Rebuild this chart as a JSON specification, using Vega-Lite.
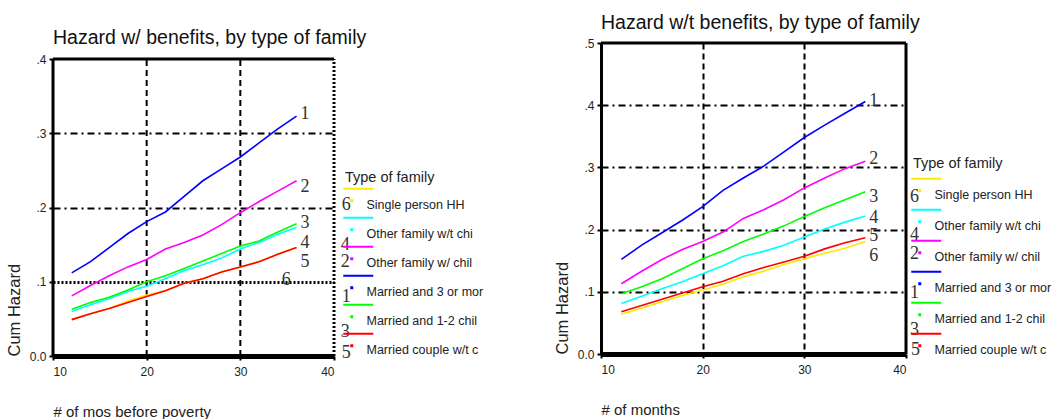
{
  "$schema": "https://vega.github.io/schema/vega-lite/v6.json",
  "background": "white",
  "padding": {"left": 6, "top": 12, "right": 0, "bottom": 0},
  "columns": 2,
  "align": "none",
  "spacing": 70,
  "config": {
    "font": "Liberation Sans",
    "view": {"stroke": null},
    "title": {"fontSize": 19.5, "fontWeight": "normal", "color": "#111", "anchor": "start", "frame": "group", "offset": 4},
    "axis": {
      "domainColor": "black", "domainWidth": 3,
      "tickColor": "black", "tickWidth": 2, "tickSize": 4,
      "labelFontSize": 12, "labelColor": "#222", "labelPadding": 3,
      "titleFontSize": 15, "titleFontWeight": "normal", "titleColor": "#222",
      "grid": true, "gridColor": "black", "gridWidth": 2
    },
    "axisX": {"domainWidth": 5, "labelPadding": 6, "titleAnchor": "start", "titlePadding": 27},
    "axisY": {
      "titleAnchor": "start", "titlePadding": 7, "titleFontSize": 16.5,
      "labelExpr": "datum.value == 0 ? '0.0' : replace(format(datum.value, '.1f'), '0.', '.')"
    },
    "legend": {
      "orient": "none",
      "titleFontSize": 14.5, "titleFontWeight": "normal", "titleColor": "#222",
      "labelFontSize": 12.5, "labelColor": "#222", "labelLimit": 300,
      "symbolType": "M-8,-16H22M0,-4.5h1v1h-1z",
      "symbolSize": 4, "symbolStrokeWidth": 2,
      "labelOffset": 9, "titlePadding": 13
    }
  },
  "resolve": {"legend": {"color": "independent"}},
  "datasets": {
    "withBenefits": [
      {"month": 12, "hazard": 0.049, "family": "Single person HH"},
      {"month": 14, "hazard": 0.057, "family": "Single person HH"},
      {"month": 16, "hazard": 0.064, "family": "Single person HH"},
      {"month": 18, "hazard": 0.074, "family": "Single person HH"},
      {"month": 20, "hazard": 0.082, "family": "Single person HH"},
      {"month": 22, "hazard": 0.088, "family": "Single person HH"},
      {"month": 24, "hazard": 0.098, "family": "Single person HH"},
      {"month": 26, "hazard": 0.104, "family": "Single person HH"},
      {"month": 28, "hazard": 0.113, "family": "Single person HH"},
      {"month": 30, "hazard": 0.120, "family": "Single person HH"},
      {"month": 32, "hazard": 0.127, "family": "Single person HH"},
      {"month": 34, "hazard": 0.137, "family": "Single person HH"},
      {"month": 36, "hazard": 0.146, "family": "Single person HH"},
      {"month": 12, "hazard": 0.060, "family": "Other family w/t chi"},
      {"month": 14, "hazard": 0.069, "family": "Other family w/t chi"},
      {"month": 16, "hazard": 0.077, "family": "Other family w/t chi"},
      {"month": 18, "hazard": 0.087, "family": "Other family w/t chi"},
      {"month": 20, "hazard": 0.094, "family": "Other family w/t chi"},
      {"month": 22, "hazard": 0.104, "family": "Other family w/t chi"},
      {"month": 24, "hazard": 0.115, "family": "Other family w/t chi"},
      {"month": 26, "hazard": 0.123, "family": "Other family w/t chi"},
      {"month": 28, "hazard": 0.132, "family": "Other family w/t chi"},
      {"month": 30, "hazard": 0.144, "family": "Other family w/t chi"},
      {"month": 32, "hazard": 0.153, "family": "Other family w/t chi"},
      {"month": 34, "hazard": 0.164, "family": "Other family w/t chi"},
      {"month": 36, "hazard": 0.173, "family": "Other family w/t chi"},
      {"month": 12, "hazard": 0.081, "family": "Other family w/ chil"},
      {"month": 14, "hazard": 0.095, "family": "Other family w/ chil"},
      {"month": 16, "hazard": 0.108, "family": "Other family w/ chil"},
      {"month": 18, "hazard": 0.120, "family": "Other family w/ chil"},
      {"month": 20, "hazard": 0.130, "family": "Other family w/ chil"},
      {"month": 22, "hazard": 0.144, "family": "Other family w/ chil"},
      {"month": 24, "hazard": 0.153, "family": "Other family w/ chil"},
      {"month": 26, "hazard": 0.163, "family": "Other family w/ chil"},
      {"month": 28, "hazard": 0.177, "family": "Other family w/ chil"},
      {"month": 30, "hazard": 0.193, "family": "Other family w/ chil"},
      {"month": 32, "hazard": 0.208, "family": "Other family w/ chil"},
      {"month": 34, "hazard": 0.222, "family": "Other family w/ chil"},
      {"month": 36, "hazard": 0.236, "family": "Other family w/ chil"},
      {"month": 12, "hazard": 0.112, "family": "Married and 3 or mor"},
      {"month": 14, "hazard": 0.127, "family": "Married and 3 or mor"},
      {"month": 16, "hazard": 0.146, "family": "Married and 3 or mor"},
      {"month": 18, "hazard": 0.165, "family": "Married and 3 or mor"},
      {"month": 20, "hazard": 0.181, "family": "Married and 3 or mor"},
      {"month": 22, "hazard": 0.194, "family": "Married and 3 or mor"},
      {"month": 24, "hazard": 0.215, "family": "Married and 3 or mor"},
      {"month": 26, "hazard": 0.236, "family": "Married and 3 or mor"},
      {"month": 28, "hazard": 0.252, "family": "Married and 3 or mor"},
      {"month": 30, "hazard": 0.268, "family": "Married and 3 or mor"},
      {"month": 32, "hazard": 0.287, "family": "Married and 3 or mor"},
      {"month": 34, "hazard": 0.306, "family": "Married and 3 or mor"},
      {"month": 36, "hazard": 0.323, "family": "Married and 3 or mor"},
      {"month": 12, "hazard": 0.063, "family": "Married and 1-2 chil"},
      {"month": 14, "hazard": 0.072, "family": "Married and 1-2 chil"},
      {"month": 16, "hazard": 0.079, "family": "Married and 1-2 chil"},
      {"month": 18, "hazard": 0.089, "family": "Married and 1-2 chil"},
      {"month": 20, "hazard": 0.100, "family": "Married and 1-2 chil"},
      {"month": 22, "hazard": 0.108, "family": "Married and 1-2 chil"},
      {"month": 24, "hazard": 0.118, "family": "Married and 1-2 chil"},
      {"month": 26, "hazard": 0.128, "family": "Married and 1-2 chil"},
      {"month": 28, "hazard": 0.138, "family": "Married and 1-2 chil"},
      {"month": 30, "hazard": 0.148, "family": "Married and 1-2 chil"},
      {"month": 32, "hazard": 0.155, "family": "Married and 1-2 chil"},
      {"month": 34, "hazard": 0.167, "family": "Married and 1-2 chil"},
      {"month": 36, "hazard": 0.178, "family": "Married and 1-2 chil"},
      {"month": 12, "hazard": 0.049, "family": "Married couple w/t c"},
      {"month": 14, "hazard": 0.057, "family": "Married couple w/t c"},
      {"month": 16, "hazard": 0.064, "family": "Married couple w/t c"},
      {"month": 18, "hazard": 0.072, "family": "Married couple w/t c"},
      {"month": 20, "hazard": 0.080, "family": "Married couple w/t c"},
      {"month": 22, "hazard": 0.088, "family": "Married couple w/t c"},
      {"month": 24, "hazard": 0.098, "family": "Married couple w/t c"},
      {"month": 26, "hazard": 0.104, "family": "Married couple w/t c"},
      {"month": 28, "hazard": 0.113, "family": "Married couple w/t c"},
      {"month": 30, "hazard": 0.120, "family": "Married couple w/t c"},
      {"month": 32, "hazard": 0.127, "family": "Married couple w/t c"},
      {"month": 34, "hazard": 0.137, "family": "Married couple w/t c"},
      {"month": 36, "hazard": 0.146, "family": "Married couple w/t c"}
    ],
    "withoutBenefits": [
      {"month": 12, "hazard": 0.064, "family": "Single person HH"},
      {"month": 14, "hazard": 0.074, "family": "Single person HH"},
      {"month": 16, "hazard": 0.084, "family": "Single person HH"},
      {"month": 18, "hazard": 0.094, "family": "Single person HH"},
      {"month": 20, "hazard": 0.103, "family": "Single person HH"},
      {"month": 22, "hazard": 0.112, "family": "Single person HH"},
      {"month": 24, "hazard": 0.124, "family": "Single person HH"},
      {"month": 26, "hazard": 0.133, "family": "Single person HH"},
      {"month": 28, "hazard": 0.144, "family": "Single person HH"},
      {"month": 30, "hazard": 0.153, "family": "Single person HH"},
      {"month": 32, "hazard": 0.162, "family": "Single person HH"},
      {"month": 34, "hazard": 0.170, "family": "Single person HH"},
      {"month": 36, "hazard": 0.181, "family": "Single person HH"},
      {"month": 12, "hazard": 0.081, "family": "Other family w/t chi"},
      {"month": 14, "hazard": 0.093, "family": "Other family w/t chi"},
      {"month": 16, "hazard": 0.105, "family": "Other family w/t chi"},
      {"month": 18, "hazard": 0.116, "family": "Other family w/t chi"},
      {"month": 20, "hazard": 0.129, "family": "Other family w/t chi"},
      {"month": 22, "hazard": 0.142, "family": "Other family w/t chi"},
      {"month": 24, "hazard": 0.157, "family": "Other family w/t chi"},
      {"month": 26, "hazard": 0.165, "family": "Other family w/t chi"},
      {"month": 28, "hazard": 0.175, "family": "Other family w/t chi"},
      {"month": 30, "hazard": 0.188, "family": "Other family w/t chi"},
      {"month": 32, "hazard": 0.201, "family": "Other family w/t chi"},
      {"month": 34, "hazard": 0.212, "family": "Other family w/t chi"},
      {"month": 36, "hazard": 0.222, "family": "Other family w/t chi"},
      {"month": 12, "hazard": 0.113, "family": "Other family w/ chil"},
      {"month": 14, "hazard": 0.133, "family": "Other family w/ chil"},
      {"month": 16, "hazard": 0.152, "family": "Other family w/ chil"},
      {"month": 18, "hazard": 0.168, "family": "Other family w/ chil"},
      {"month": 20, "hazard": 0.181, "family": "Other family w/ chil"},
      {"month": 22, "hazard": 0.196, "family": "Other family w/ chil"},
      {"month": 24, "hazard": 0.218, "family": "Other family w/ chil"},
      {"month": 26, "hazard": 0.232, "family": "Other family w/ chil"},
      {"month": 28, "hazard": 0.248, "family": "Other family w/ chil"},
      {"month": 30, "hazard": 0.267, "family": "Other family w/ chil"},
      {"month": 32, "hazard": 0.283, "family": "Other family w/ chil"},
      {"month": 34, "hazard": 0.298, "family": "Other family w/ chil"},
      {"month": 36, "hazard": 0.310, "family": "Other family w/ chil"},
      {"month": 12, "hazard": 0.152, "family": "Married and 3 or mor"},
      {"month": 14, "hazard": 0.175, "family": "Married and 3 or mor"},
      {"month": 16, "hazard": 0.195, "family": "Married and 3 or mor"},
      {"month": 18, "hazard": 0.215, "family": "Married and 3 or mor"},
      {"month": 20, "hazard": 0.237, "family": "Married and 3 or mor"},
      {"month": 22, "hazard": 0.263, "family": "Married and 3 or mor"},
      {"month": 24, "hazard": 0.283, "family": "Married and 3 or mor"},
      {"month": 26, "hazard": 0.302, "family": "Married and 3 or mor"},
      {"month": 28, "hazard": 0.325, "family": "Married and 3 or mor"},
      {"month": 30, "hazard": 0.348, "family": "Married and 3 or mor"},
      {"month": 32, "hazard": 0.368, "family": "Married and 3 or mor"},
      {"month": 34, "hazard": 0.387, "family": "Married and 3 or mor"},
      {"month": 36, "hazard": 0.406, "family": "Married and 3 or mor"},
      {"month": 12, "hazard": 0.097, "family": "Married and 1-2 chil"},
      {"month": 14, "hazard": 0.108, "family": "Married and 1-2 chil"},
      {"month": 16, "hazard": 0.121, "family": "Married and 1-2 chil"},
      {"month": 18, "hazard": 0.137, "family": "Married and 1-2 chil"},
      {"month": 20, "hazard": 0.153, "family": "Married and 1-2 chil"},
      {"month": 22, "hazard": 0.166, "family": "Married and 1-2 chil"},
      {"month": 24, "hazard": 0.181, "family": "Married and 1-2 chil"},
      {"month": 26, "hazard": 0.193, "family": "Married and 1-2 chil"},
      {"month": 28, "hazard": 0.206, "family": "Married and 1-2 chil"},
      {"month": 30, "hazard": 0.221, "family": "Married and 1-2 chil"},
      {"month": 32, "hazard": 0.235, "family": "Married and 1-2 chil"},
      {"month": 34, "hazard": 0.248, "family": "Married and 1-2 chil"},
      {"month": 36, "hazard": 0.261, "family": "Married and 1-2 chil"},
      {"month": 12, "hazard": 0.068, "family": "Married couple w/t c"},
      {"month": 14, "hazard": 0.078, "family": "Married couple w/t c"},
      {"month": 16, "hazard": 0.088, "family": "Married couple w/t c"},
      {"month": 18, "hazard": 0.098, "family": "Married couple w/t c"},
      {"month": 20, "hazard": 0.108, "family": "Married couple w/t c"},
      {"month": 22, "hazard": 0.117, "family": "Married couple w/t c"},
      {"month": 24, "hazard": 0.129, "family": "Married couple w/t c"},
      {"month": 26, "hazard": 0.139, "family": "Married couple w/t c"},
      {"month": 28, "hazard": 0.148, "family": "Married couple w/t c"},
      {"month": 30, "hazard": 0.157, "family": "Married couple w/t c"},
      {"month": 32, "hazard": 0.169, "family": "Married couple w/t c"},
      {"month": 34, "hazard": 0.179, "family": "Married couple w/t c"},
      {"month": 36, "hazard": 0.187, "family": "Married couple w/t c"}
    ],
    "withBenefitsTags": [
      {"month": 36, "hazard": 0.326, "label": "1"},
      {"month": 36, "hazard": 0.228, "label": "2"},
      {"month": 36, "hazard": 0.179, "label": "3"},
      {"month": 36, "hazard": 0.152, "label": "4"},
      {"month": 36, "hazard": 0.127, "label": "5"},
      {"month": 34, "hazard": 0.102, "label": "6"},
      {"month": 40.4, "hazard": 0.203, "label": "6"},
      {"month": 40.3, "hazard": 0.149, "label": "4"},
      {"month": 40.3, "hazard": 0.127, "label": "2"},
      {"month": 40.4, "hazard": 0.079, "label": "1"},
      {"month": 40.3, "hazard": 0.032, "label": "3"},
      {"month": 40.4, "hazard": 0.004, "label": "5"}
    ],
    "withoutBenefitsTags": [
      {"month": 36, "hazard": 0.406, "label": "1"},
      {"month": 36, "hazard": 0.313, "label": "2"},
      {"month": 36, "hazard": 0.253, "label": "3"},
      {"month": 36, "hazard": 0.219, "label": "4"},
      {"month": 36, "hazard": 0.190, "label": "5"},
      {"month": 36, "hazard": 0.158, "label": "6"},
      {"month": 40.0, "hazard": 0.253, "label": "6"},
      {"month": 40.0, "hazard": 0.192, "label": "4"},
      {"month": 40.0, "hazard": 0.160, "label": "2"},
      {"month": 40.0, "hazard": 0.098, "label": "1"},
      {"month": 40.0, "hazard": 0.039, "label": "3"},
      {"month": 40.1, "hazard": 0.006, "label": "5"}
    ],
    "monthGrid": [
      {"month": 20},
      {"month": 30}
    ]
  },
  "concat": [
    {
      "width": 281,
      "height": 313,
      "title": {"text": "Hazard w/ benefits, by type of family", "offset": -5},
      "layer": [
        {
          "data": {"name": "monthGrid"},
          "mark": {"type": "rule", "color": "black", "strokeWidth": 2, "strokeDash": [6, 4]},
          "encoding": {
            "x": {"field": "month", "type": "quantitative"},
            "y": {"datum": 0},
            "y2": {"datum": 0.4}
          }
        },
        {
          "data": {"name": "withBenefits"},
          "mark": {"type": "line", "strokeWidth": 1.6},
          "encoding": {
            "x": {
              "field": "month", "type": "quantitative",
              "scale": {"domain": [10, 40], "nice": false, "zero": false},
              "axis": {
                "values": [10, 20, 30, 40],
                "title": "# of mos before poverty",
                "grid": false
              }
            },
            "y": {
              "field": "hazard", "type": "quantitative",
              "scale": {"domain": [0, 0.42155], "nice": false},
              "axis": {
                "values": [0, 0.1, 0.2, 0.3, 0.4],
                "title": "Cum Hazard",
                "domain": false,
                "gridDash": {"condition": {"test": "abs(datum.value - 0.1) < 0.001", "value": [2, 2]}, "value": [7, 4, 2, 4]},
                "gridWidth": {"condition": {"test": "abs(datum.value - 0.1) < 0.001", "value": 3}, "value": 2},
                "gridOpacity": {"condition": {"test": "datum.value > 0.05 && datum.value < 0.35", "value": 1}, "value": 0}
              }
            },
            "color": {
              "field": "family", "type": "nominal",
              "scale": {
                "domain": ["Single person HH", "Other family w/t chi", "Other family w/ chil", "Married and 3 or mor", "Married and 1-2 chil", "Married couple w/t c"],
                "range": ["#ffe800", "#00ffff", "#ff00ff", "#0000ff", "#00ff00", "#ff0000"]
              },
              "legend": {"title": "Type of family", "legendX": 292, "legendY": 128, "rowPadding": 2}
            }
          }
        },
        {
          "data": {"values": [{}]},
          "mark": {"type": "rule", "color": "black", "strokeWidth": 3},
          "encoding": {"x": {"datum": 10}, "y": {"datum": 0}, "y2": {"datum": 0.4}}
        },
        {
          "data": {"values": [{}]},
          "mark": {"type": "rule", "color": "black", "strokeWidth": 3},
          "encoding": {"y": {"datum": 0.4}}
        },
        {
          "data": {"values": [{}]},
          "mark": {"type": "rule", "color": "black", "strokeWidth": 3, "strokeDash": [2, 2]},
          "encoding": {"x": {"datum": 40}, "y": {"datum": 0}, "y2": {"datum": 0.4}}
        },
        {
          "data": {"name": "withBenefitsTags"},
          "mark": {"type": "text", "font": "Liberation Serif", "fontSize": 18, "align": "left", "baseline": "middle", "dx": 4, "color": "#333"},
          "encoding": {
            "x": {"field": "month", "type": "quantitative"},
            "y": {"field": "hazard", "type": "quantitative"},
            "text": {"field": "label"}
          }
        }
      ]
    },
    {
      "width": 305,
      "height": 311,
      "title": {"text": "Hazard w/t benefits, by type of family"},
      "layer": [
        {
          "data": {"name": "withoutBenefits"},
          "mark": {"type": "line", "strokeWidth": 1.6},
          "encoding": {
            "x": {
              "field": "month", "type": "quantitative",
              "scale": {"domain": [10, 40], "nice": false, "zero": false},
              "axis": {
                "values": [10, 20, 30, 40],
                "title": "# of months",
                "gridDash": [6, 4],
                "gridOpacity": {"condition": {"test": "datum.value > 10 && datum.value < 40", "value": 1}, "value": 0}
              }
            },
            "y": {
              "field": "hazard", "type": "quantitative",
              "scale": {"domain": [0, 0.5], "nice": false},
              "axis": {
                "values": [0, 0.1, 0.2, 0.3, 0.4, 0.5],
                "title": "Cum Hazard",
                "gridDash": [7, 4, 2, 4],
                "gridOpacity": {"condition": {"test": "datum.value > 0.05 && datum.value < 0.45", "value": 1}, "value": 0}
              }
            },
            "color": {
              "field": "family", "type": "nominal",
              "scale": {
                "domain": ["Single person HH", "Other family w/t chi", "Other family w/ chil", "Married and 3 or mor", "Married and 1-2 chil", "Married couple w/t c"],
                "range": ["#ffe800", "#00ffff", "#ff00ff", "#0000ff", "#00ff00", "#ff0000"]
              },
              "legend": {"title": "Type of family", "legendX": 312, "legendY": 114, "rowPadding": 4, "titlePadding": 17}
            }
          }
        },
        {
          "data": {"values": [{}]},
          "mark": {"type": "rule", "color": "black", "strokeWidth": 3},
          "encoding": {"y": {"datum": 0.5}}
        },
        {
          "data": {"values": [{}]},
          "mark": {"type": "rule", "color": "black", "strokeWidth": 3},
          "encoding": {"x": {"datum": 40}}
        },
        {
          "data": {"name": "withoutBenefitsTags"},
          "mark": {"type": "text", "font": "Liberation Serif", "fontSize": 18, "align": "left", "baseline": "middle", "dx": 4, "color": "#333"},
          "encoding": {
            "x": {"field": "month", "type": "quantitative"},
            "y": {"field": "hazard", "type": "quantitative"},
            "text": {"field": "label"}
          }
        }
      ]
    }
  ]
}
